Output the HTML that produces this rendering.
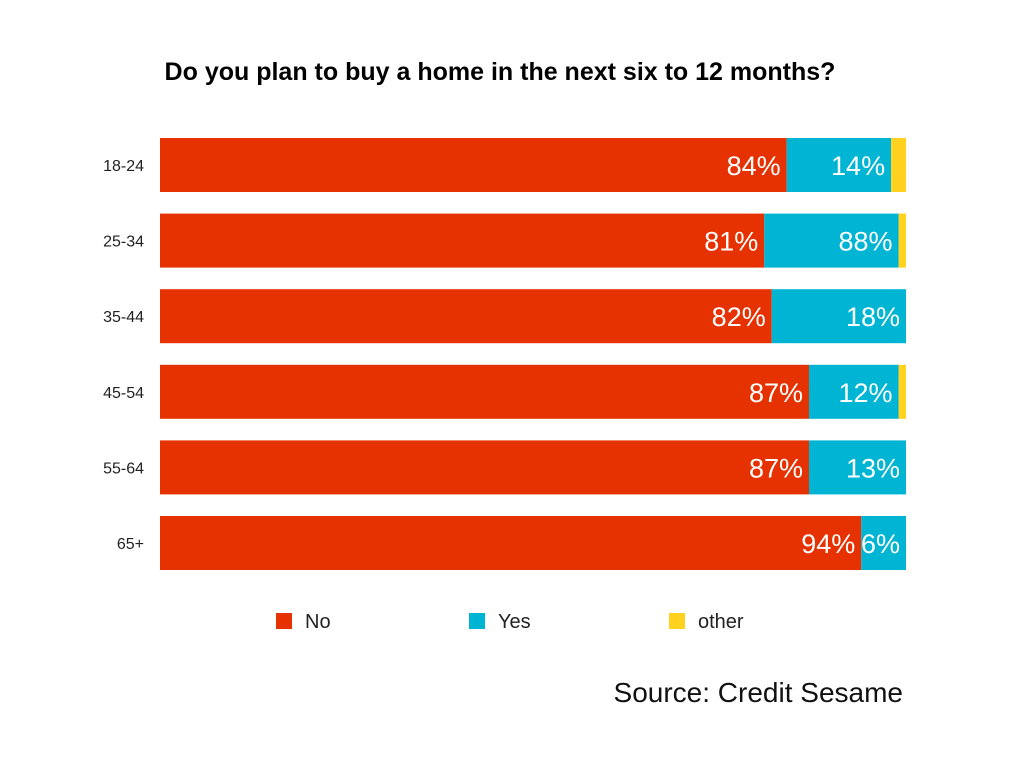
<!DOCTYPE html>
<html><head><meta charset="utf-8"><style>
body{margin:0;background:#fff;font-family:"Liberation Sans",sans-serif}
</style></head><body>
<svg width="1024" height="768">
<text x="500" y="80" text-anchor="middle" font-size="25" font-weight="bold" fill="#000">Do you plan to buy a home in the next six to 12 months?</text>
<g id="bars"></g>
<g>
<rect x="276" y="613" width="16" height="16" fill="#e63200"/>
<text x="305" y="628" font-size="20" fill="#222">No</text>
<rect x="469" y="613" width="16" height="16" fill="#00b5d3"/>
<text x="498" y="628" font-size="20" fill="#222">Yes</text>
<rect x="669" y="613" width="16" height="16" fill="#ffd21f"/>
<text x="698" y="628" font-size="20" fill="#222">other</text>
</g>
<text x="903" y="702" text-anchor="end" font-size="28" fill="#111">Source: Credit Sesame</text>
</svg>
<script>
const categories=["18-24","25-34","35-44","45-54","55-64","65+"];
const noValues=[84,81,82,87,87,94];
const yesValues=[14,18,18,12,13,6];
const otherValues=[2,1,0,1,0,0];
const noLabels=["84%","81%","82%","87%","87%","94%"];
const yesLabels=["14%","88%","18%","12%","13%","6%"];
const x0=160,x1=906,y0=138,pitch=75.6,bh=54;
const g=document.getElementById('bars');
const ns="http://www.w3.org/2000/svg";
const xs=v=>x0+(x1-x0)*v/100;
function mk(t,a){const e=document.createElementNS(ns,t);for(const k in a)e.setAttribute(k,a[k]);g.appendChild(e);return e;}
categories.forEach((c,i)=>{
  const y=y0+i*pitch;
  let t=mk('text',{x:144,y:y+bh/2+6,'text-anchor':'end','font-size':16,fill:'#222'});t.textContent=c;
  
  
  const segs=[[0,noValues[i],'#e63200',noLabels[i],'no'],[noValues[i],noValues[i]+yesValues[i],'#00b5d3',yesLabels[i],'yes'],[noValues[i]+yesValues[i],noValues[i]+yesValues[i]+otherValues[i],'#ffd21f',null,'other']];
  segs.forEach(s=>{
    if(s[1]<=s[0])return;
    const r=mk('rect',{x:xs(s[0]),y:y,width:xs(s[1])-xs(s[0]),height:bh,fill:s[2]});
    
    
    if(s[3]){
      const l=mk('text',{x:xs(s[1])-(s[4]=='yes'&&otherValues[i]>0?(xs(s[1]+otherValues[i])-xs(s[1])):0)-6+(s[4]=='yes'?(otherValues[i]>0?(xs(s[1]+otherValues[i])-xs(s[1])):0):0)-(s[4]=='yes'&&otherValues[i]>0?0:0),y:y+bh/2+10,'text-anchor':'end','font-size':27,fill:'#fff'});
      l.textContent=s[3];
      
      
    }
  });
});
</script>
</body></html>
